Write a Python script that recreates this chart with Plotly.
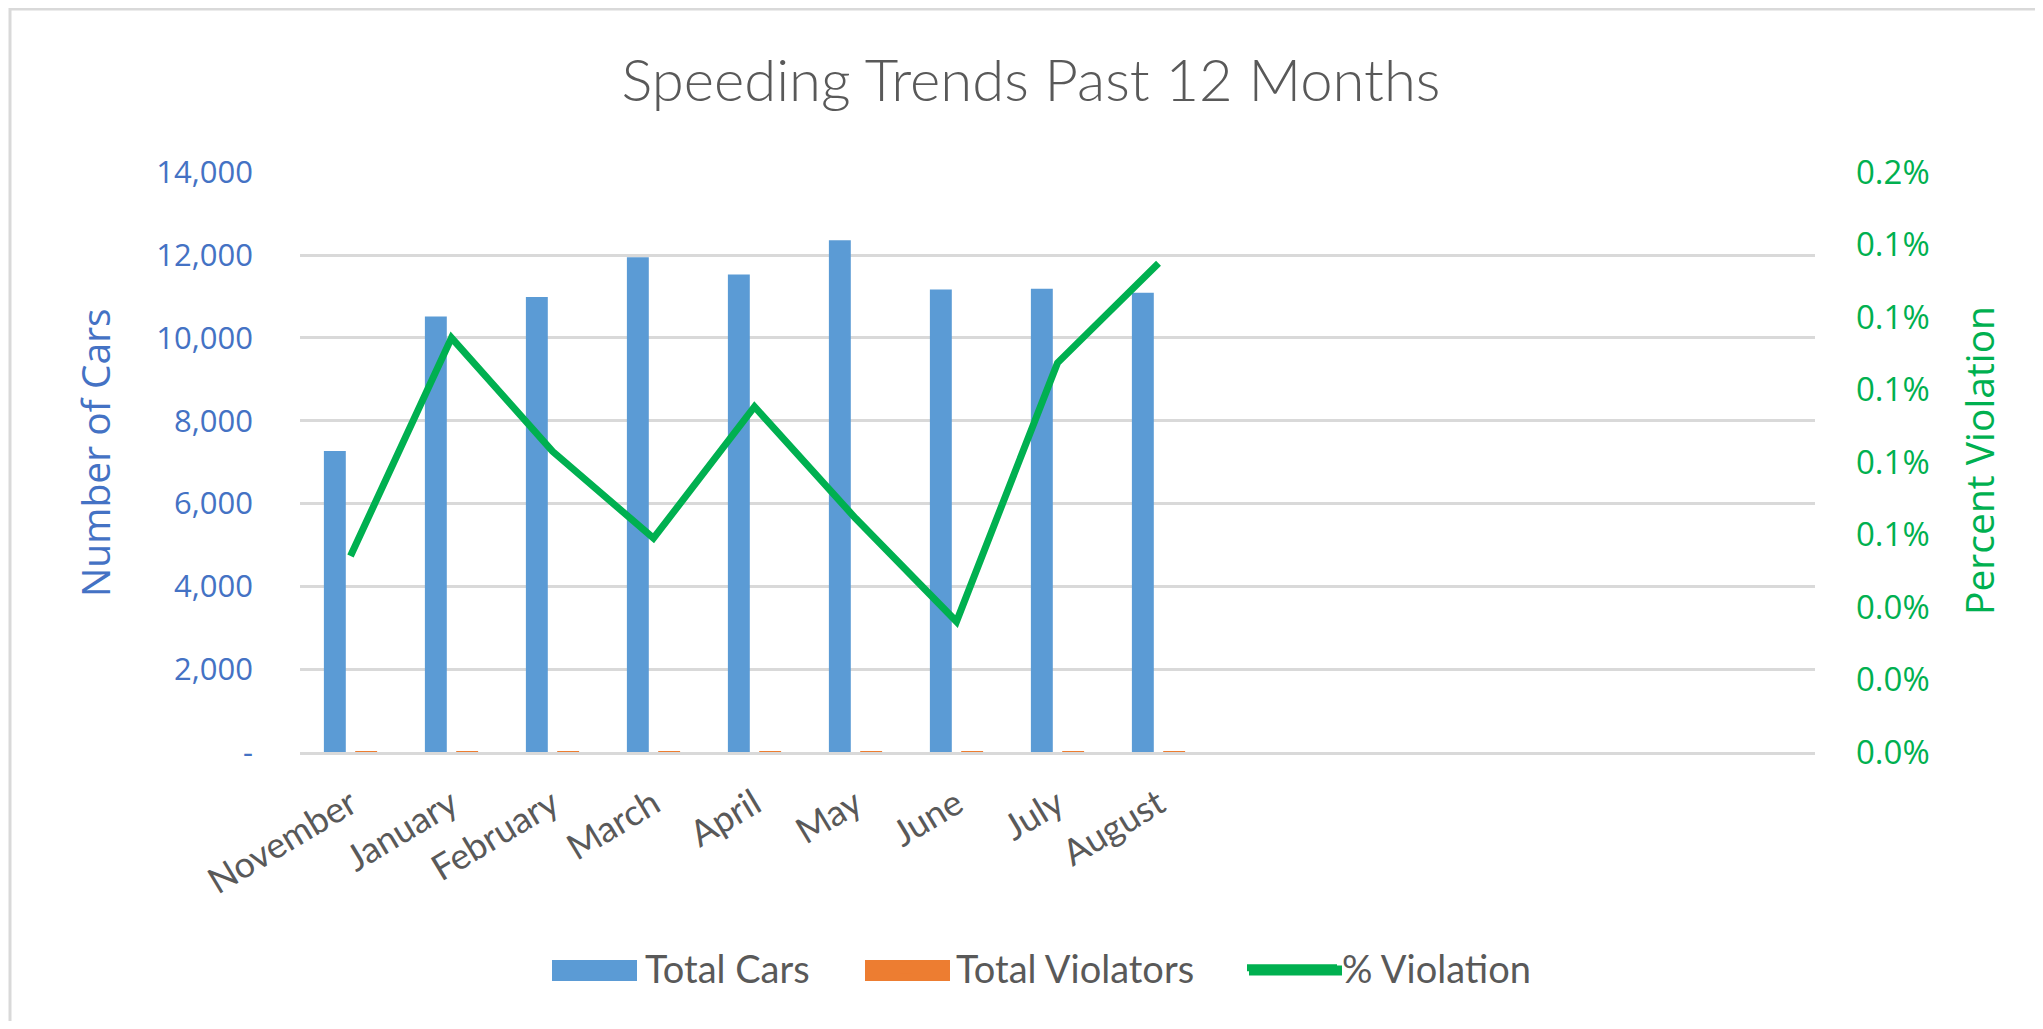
import plotly.graph_objects as go

# ---- data ----
months = ["November", "January", "February", "March", "April", "May", "June", "July", "August"]
total_cars = [7270, 10520, 10990, 11950, 11530, 12360, 11170, 11190, 11090]
total_violators = [4, 12, 9, 7, 11, 8, 4, 12, 15]
pct_violation = [0.000541, 0.001143, 0.000830, 0.000590, 0.000953, 0.000645, 0.000360, 0.001074, 0.001349]

left_tickvals = [0, 2000, 4000, 6000, 8000, 10000, 12000, 14000]
left_ticktext = ["-", "2,000", "4,000", "6,000", "8,000", "10,000", "12,000", "14,000"]

# ---- styles ----
BLUE = "#5B9BD5"
ORANGE = "#ED7D31"
GREEN = "#00B050"
AXBLUE = "#4472C4"
GREY = "#595959"
GRID = "#D9D9D9"
CAL = "Lato, Carlito, Calibri, sans-serif"
SEG = "Open Sans, Noto Sans, sans-serif"

# page is 2043x1029; the html body has an 8px margin, so the figure is drawn 8px in
OFF = 8
W, H = 2043 - 2 * OFF, 1029 - 2 * OFF
# plot area in page pixels: x 300..1815, y 172..752
L = 300 - OFF
T = 172 - OFF
R = W - (1815 - OFF)
B = H - (752 - OFF)
PW = W - L - R
PH = H - T - B


def px_x(p):
    return (p - OFF - L) / PW


def px_y(p):
    return (H - B - (p - OFF)) / PH


fig = go.Figure()
fig.add_trace(go.Bar(x=months, y=total_cars, name="Total Cars", marker_color=BLUE,
                     marker_line_width=0, legend="legend"))
fig.add_trace(go.Bar(x=months, y=total_violators, name="Total Violators", marker_color=ORANGE,
                     marker_line_width=0, legend="legend2"))
fig.add_trace(go.Scatter(x=months, y=pct_violation, name="% Violation", mode="lines",
                         line=dict(color=GREEN, width=7), yaxis="y2", legend="legend3"))

leg_common = dict(orientation="h", yanchor="middle", xanchor="left", visible=True,
                  itemwidth=90,
                  font=dict(family=CAL, size=38, color=GREY), bgcolor="rgba(0,0,0,0)")

LEG_Y = 968
swatches = [
    dict(type="rect", xref="paper", yref="paper", x0=px_x(552), x1=px_x(637),
         y0=px_y(981), y1=px_y(960), fillcolor=BLUE, line=dict(width=0), layer="above"),
    dict(type="rect", xref="paper", yref="paper", x0=px_x(865), x1=px_x(950),
         y0=px_y(981), y1=px_y(960), fillcolor=ORANGE, line=dict(width=0), layer="above"),
    dict(type="rect", xref="paper", yref="paper", x0=px_x(1249), x1=px_x(1342),
         y0=px_y(975.5), y1=px_y(965.5), fillcolor=GREEN, line=dict(width=0), layer="above"),
]

fig.update_layout(
    width=W, height=H,
    margin=dict(l=L, r=R, t=T, b=B, pad=0, autoexpand=False),
    paper_bgcolor="white", plot_bgcolor="white",
    showlegend=True,
    barmode="group", bargap=0.38, bargroupgap=0.30,
    hovermode=False,
    title=dict(text="Speeding Trends Past 12 Months", x=(1031 - OFF) / W, xanchor="center",
               y=1 - (81 - OFF) / H, yanchor="middle",
               font=dict(family=CAL, size=58, color=GREY, weight=300)),
    xaxis=dict(type="category", range=[-0.5, 14.5], showgrid=False, zeroline=False,
               showline=True, linecolor=GRID, linewidth=3, ticks="", tickangle=-31,
               ticklabelstandoff=14,
               tickfont=dict(family=CAL, size=36, color=GREY)),
    yaxis=dict(range=[0, 14007], tickvals=left_tickvals, ticktext=left_ticktext,
               showgrid=True, gridcolor=GRID, gridwidth=3, zeroline=False, showline=False,
               ticks="", ticklabelstandoff=46,
               tickfont=dict(family=SEG, size=31, color=AXBLUE)),
    yaxis2=dict(range=[0, 0.0016008], dtick=0.0002, tickformat=".1%", overlaying="y", side="right",
                showgrid=False, zeroline=False, showline=False, ticks="", ticklabelstandoff=40,
                tickfont=dict(family=SEG, size=33, color=GREEN)),
    legend=dict(x=px_x(545), y=px_y(LEG_Y), **leg_common),
    legend2=dict(x=px_x(856), y=px_y(LEG_Y), **leg_common),
    legend3=dict(x=px_x(1242), y=px_y(LEG_Y), **leg_common),
    annotations=[
        dict(text="Number of Cars", xref="paper", yref="paper", x=px_x(94), y=px_y(453),
             textangle=-90, showarrow=False, xanchor="center", yanchor="middle",
             font=dict(family=SEG, size=39, color=AXBLUE)),
        dict(text="Percent Violation", xref="paper", yref="paper", x=px_x(1978), y=px_y(461),
             textangle=-90, showarrow=False, xanchor="center", yanchor="middle",
             font=dict(family=SEG, size=39, color=GREEN)),
    ],
    shapes=[
        dict(type="rect", xref="paper", yref="paper", x0=px_x(10), x1=px_x(2070),
             y0=px_y(1024), y1=px_y(9), line=dict(color=GRID, width=3), fillcolor="rgba(0,0,0,0)",
             layer="below"),
    ] + swatches,
)

fig.write_html("out.html")
